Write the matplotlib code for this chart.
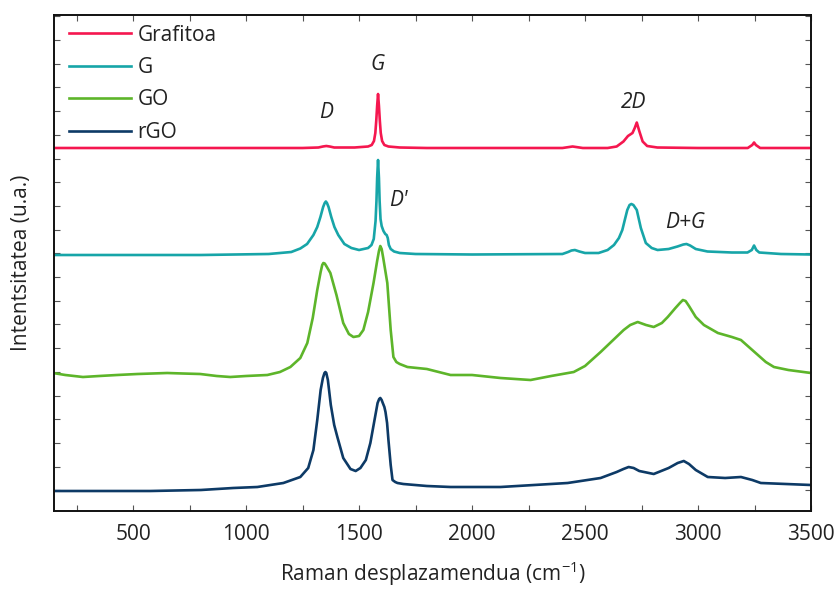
import matplotlib
matplotlib.use("Agg")
import matplotlib.pyplot as plt
from matplotlib.ticker import MultipleLocator, FixedLocator, NullFormatter

plt.rcParams['font.family'] = ['Open Sans', 'DejaVu Sans']
plt.rcParams['mathtext.fontset'] = 'custom'
plt.rcParams['mathtext.rm'] = 'Open Sans'
plt.rcParams['mathtext.it'] = 'Open Sans:italic'

# ---- data (Raman shift in cm^-1, intensity in arbitrary units incl. stacking offset) ----
graf_x = [150, 600, 1000, 1250, 1320, 1340, 1355, 1370, 1390, 1480, 1540, 1556, 1566, 1572, 1576,
          1580, 1584, 1588, 1592, 1596, 1602, 1612, 1630, 1680, 1800, 2400, 2430, 2445, 2460, 2490,
          2600, 2640, 2670, 2690, 2710, 2720, 2729, 2740, 2755, 2775, 2820, 3000, 3220, 3240, 3248,
          3256, 3275, 3500]
graf_y = [363, 363, 363, 363, 363.5, 364.5, 365, 364.5, 363.5, 363.5, 364.5, 366, 370, 378, 390,
          405, 417, 405, 390, 378, 370, 366, 364.5, 363.5, 363, 363, 364, 364.5, 364, 363,
          363, 364.5, 369.5, 375, 378, 383, 388.5, 380, 369.5, 365, 363.5, 363, 363, 366, 368.5,
          366, 363, 363]

g_x = [150, 800, 1100, 1200, 1240, 1270, 1298, 1315, 1329, 1341, 1348, 1353, 1358, 1365, 1377,
       1391, 1408, 1435, 1466, 1500, 1540, 1555, 1565, 1573, 1577, 1580, 1584, 1588, 1591, 1595,
       1600, 1608, 1616, 1622, 1627, 1632, 1640, 1655, 1680, 1750, 2000, 2400, 2425, 2440, 2455,
       2475, 2500, 2560, 2600, 2628, 2650, 2665, 2677, 2687, 2697, 2705, 2714, 2729, 2747, 2769,
       2795, 2821, 2870, 2909, 2935, 2949, 2965, 2990, 3042, 3150, 3219, 3238, 3248, 3258, 3271,
       3367, 3500]
g_y = [256, 256, 257, 259, 262.5, 267, 276, 284, 294, 304, 308, 309.5, 308, 304, 294,
       284, 276, 267, 263, 261, 263, 266, 272, 290, 310, 333, 351, 333, 310, 292,
       285, 280, 277, 276, 273, 266, 262, 259.5, 258, 257, 256.5, 257, 259, 260.5, 261,
       259.5, 258, 258, 261, 266, 273, 281, 292, 301, 306, 307, 306, 301, 283, 268,
       263, 261, 262, 264.5, 266.5, 267, 265.5, 262, 259.5, 258.5, 258.5, 261, 265.5, 261, 258.5,
       257, 256.5]

go_x = [146, 200, 278, 350, 429, 520, 651, 720, 797, 870, 930, 1000, 1094, 1150, 1196, 1240,
        1271, 1295, 1315, 1330, 1337, 1342, 1348, 1355, 1373, 1400, 1430, 1455, 1475, 1500, 1519,
        1540, 1564, 1580, 1588, 1594, 1600, 1607, 1625, 1640, 1652, 1665, 1680, 1714, 1800, 1905,
        2000, 2126, 2259, 2350, 2450, 2500, 2569, 2620, 2671, 2700, 2733, 2770, 2804, 2840, 2866,
        2900, 2920, 2933, 2945, 2960, 2990, 3026, 3088, 3150, 3190, 3230, 3265, 3300, 3336, 3400,
        3500]
go_y = [138, 136, 134, 135, 136, 137, 138, 137.5, 137, 135, 134, 135, 136, 139, 144, 153,
        168, 193, 221, 239, 246, 248, 247.5, 245, 238, 216, 188, 177, 174, 175, 181,
        199, 228, 250, 260, 265, 262, 253, 228, 181, 154, 149, 147, 144, 142, 136,
        136, 133, 131, 135, 139, 145, 159, 170, 181, 186, 189, 186, 184, 188, 194,
        203, 208, 211, 210, 205, 194, 186, 178, 174, 171, 163, 156, 149, 144, 141,
        138]

rgo_x = [146, 300, 575, 800, 943, 1050, 1165, 1240, 1275, 1298, 1315, 1330, 1340, 1347, 1351,
         1355, 1362, 1375, 1390, 1404, 1430, 1462, 1485, 1506, 1530, 1550, 1570, 1582, 1589, 1594,
         1600, 1605, 1612, 1617, 1624, 1630, 1640, 1648, 1660, 1670, 1696, 1800, 1905, 2126, 2423,
         2569, 2640, 2670, 2693, 2715, 2740, 2804, 2870, 2910, 2937, 2960, 2990, 3043, 3120, 3190,
         3240, 3278, 3500]
rgo_y = [20, 20, 20, 21, 23, 24, 28, 34, 43, 61, 91, 121, 133, 138, 139,
         138, 131, 106, 86, 74, 53, 42, 40, 43, 51, 68, 93, 108, 112, 113,
         111, 108, 104, 99, 88, 71, 46, 31, 29, 28, 27, 25, 24, 24, 28,
         33, 39, 42, 44, 43, 40, 37, 43, 48, 50, 47, 41, 34, 33, 34,
         31, 28, 26]

labels = ['Grafitoa', 'G', 'GO', 'rGO']
colors = ['#f5174f', '#17a5a8', '#5db52a', '#0d3a66']

peak_labels = ['D', 'G', "D'", '2D', 'D+G']
peak_x = [1355, 1583, 1672, 2716, 2944]
peak_y = [398, 446, 310, 409, 288]

# ---- figure ----
fig = plt.figure(figsize=(8.37, 5.90), dpi=100)
ax = fig.add_axes([54/837, 1 - 511/590, (811-54)/837, (511-15)/590])

series = [(graf_x, graf_y), (g_x, g_y), (go_x, go_y), (rgo_x, rgo_y)]
for (xs, ys), lab, col in zip(series, labels, colors):
    ax.plot(xs, ys, color=col, lw=1.9, label=lab, solid_joinstyle='round')

ax.set_xlim(150, 3500)
ax.set_ylim(0, 496)

ax.xaxis.set_major_locator(MultipleLocator(500))
ax.xaxis.set_minor_locator(MultipleLocator(250))
ytk = [20.7 + 23.7 * k for k in range(21)]
ax.yaxis.set_major_locator(FixedLocator(ytk))
ax.yaxis.set_major_formatter(NullFormatter())
ax.tick_params(axis='both', which='both', direction='in', top=True, right=True,
               length=4, width=0.8, colors='#555555')
ax.tick_params(axis='x', which='major', labelsize=15, labelcolor='#222222', pad=9)

for sp in ax.spines.values():
    sp.set_linewidth(1.4)
    sp.set_color('#111111')

ax.set_xlabel('Raman desplazamendua (cm$^{-1}$)', fontsize=15, color='#222222',
              labelpad=11)
ax.set_ylabel('Intentsitatea (u.a.)', fontsize=15, color='#222222', labelpad=12)

for t, px, py in zip(peak_labels, peak_x, peak_y):
    ax.text(px, py, t, fontsize=15, style='italic', ha='center', va='center',
            color='#222222')

leg = ax.legend(loc='upper left', frameon=False, fontsize=15, handlelength=3.0,
                handletextpad=0.3, labelspacing=0.55, borderaxespad=0.2,
                bbox_to_anchor=(0.003, 1.006))
for t in leg.get_texts():
    t.set_color('#222222')

fig.savefig('out.png', dpi=100)
